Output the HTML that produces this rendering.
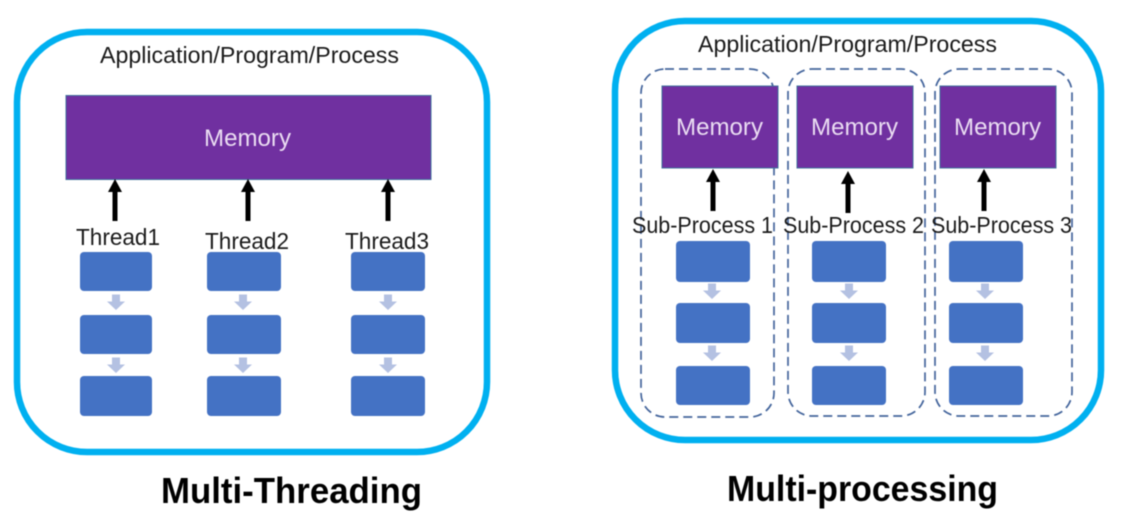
<!DOCTYPE html>
<html><head><meta charset="utf-8"><style>
html,body{margin:0;padding:0;background:#fff;width:1134px;height:528px;overflow:hidden}
svg{display:block;filter:blur(.45px)}
text{font-family:"Liberation Sans",sans-serif;fill:#1a1a1a;font-size:23px}
.m{fill:#eadcf2;font-size:24px}
.t{font-weight:bold;font-size:36px;fill:#000}
</style></head><body>
<svg width="1134" height="528" viewBox="0 0 1134 528" xmlns="http://www.w3.org/2000/svg">
<defs>
<path id="d" d="M-4-.5h8v7h5l-9 8.500-9-8.500h5z" fill="#b4c1e2"/>
<path id="u" d="M-2.500 42v-29h-4.500l7-13 7 13h-4.500v29z" fill="#000"/>
</defs>
<rect x="17" y="32" width="470" height="420" rx="70" fill="#fff" stroke="#00b0f0" stroke-width="6.500"/>
<rect x="615" y="21" width="486" height="419" rx="70" fill="#fff" stroke="#00b0f0" stroke-width="6.500"/>

<text x="100" y="63" textLength="299" lengthAdjust="spacingAndGlyphs">Application/Program/Process</text>
<rect x="66" y="95.500" width="365" height="84" fill="#7030a0" stroke="#41719c" stroke-width="1"/>
<text class="m" x="204" y="146" textLength="87" lengthAdjust="spacingAndGlyphs">Memory</text>
<use href="#u" x="115" y="179"/><use href="#u" x="248" y="179"/><use href="#u" x="388" y="179"/>
<text x="76" y="245" textLength="84" lengthAdjust="spacingAndGlyphs">Thread1</text>
<text x="205" y="249" textLength="84" lengthAdjust="spacingAndGlyphs">Thread2</text>
<text x="345" y="249" textLength="84" lengthAdjust="spacingAndGlyphs">Thread3</text>
<g fill="#4472c4">
<rect x="80" y="252" width="72" height="39" rx="4"/><rect x="80" y="315" width="72" height="39" rx="4"/><rect x="80" y="376" width="72" height="40" rx="4"/>
<rect x="207" y="252" width="74" height="39" rx="4"/><rect x="207" y="315" width="74" height="39" rx="4"/><rect x="207" y="376" width="74" height="40" rx="4"/>
<rect x="351" y="252" width="74" height="39" rx="4"/><rect x="351" y="315" width="74" height="39" rx="4"/><rect x="351" y="376" width="74" height="40" rx="4"/>
</g>
<use href="#d" x="116" y="295"/><use href="#d" x="116" y="358"/>
<use href="#d" x="243" y="295"/><use href="#d" x="243" y="358"/>
<use href="#d" x="388" y="295"/><use href="#d" x="388" y="358"/>
<text class="t" x="161" y="503" textLength="261" lengthAdjust="spacingAndGlyphs">Multi-Threading</text>

<text x="698" y="52" textLength="299" lengthAdjust="spacingAndGlyphs">Application/Program/Process</text>
<g fill="none" stroke="#44659c" stroke-width="1.700" stroke-dasharray="9 5">
<rect x="641" y="69" width="133" height="348" rx="24"/>
<rect x="788" y="69" width="137" height="347" rx="24"/>
<rect x="935" y="69" width="137" height="347" rx="24"/>
</g>
<g fill="#7030a0" stroke="#41719c" stroke-width="1">
<rect x="662" y="86" width="116" height="82"/><rect x="797" y="86" width="116" height="82"/><rect x="940" y="86" width="116" height="82"/>
</g>
<text class="m" x="676" y="135" textLength="87" lengthAdjust="spacingAndGlyphs">Memory</text>
<text class="m" x="811" y="135" textLength="87" lengthAdjust="spacingAndGlyphs">Memory</text>
<text class="m" x="954" y="135" textLength="87" lengthAdjust="spacingAndGlyphs">Memory</text>
<use href="#u" x="713" y="169"/><use href="#u" x="848" y="171"/><use href="#u" x="984" y="169"/>
<text x="632" y="233" textLength="141" lengthAdjust="spacingAndGlyphs">Sub-Process 1</text>
<text x="783" y="233" textLength="141" lengthAdjust="spacingAndGlyphs">Sub-Process 2</text>
<text x="931" y="233" textLength="141" lengthAdjust="spacingAndGlyphs">Sub-Process 3</text>
<g fill="#4472c4">
<rect x="676" y="241" width="74" height="41" rx="4"/><rect x="676" y="303" width="74" height="40" rx="4"/><rect x="676" y="366" width="74" height="39" rx="4"/>
<rect x="812" y="241" width="74" height="41" rx="4"/><rect x="812" y="303" width="74" height="40" rx="4"/><rect x="812" y="366" width="74" height="39" rx="4"/>
<rect x="949" y="241" width="74" height="41" rx="4"/><rect x="949" y="303" width="74" height="40" rx="4"/><rect x="949" y="366" width="74" height="39" rx="4"/>
</g>
<use href="#d" x="712" y="284"/><use href="#d" x="712" y="346"/>
<use href="#d" x="849" y="284"/><use href="#d" x="849" y="346"/>
<use href="#d" x="985" y="284"/><use href="#d" x="985" y="346"/>
<text class="t" x="727" y="501" textLength="271" lengthAdjust="spacingAndGlyphs">Multi-processing</text>
</svg>
</body></html>
